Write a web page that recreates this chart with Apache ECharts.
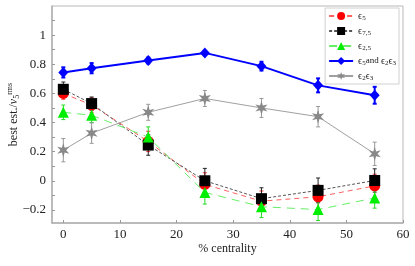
<!DOCTYPE html>
<html><head><meta charset="utf-8">
<script src="https://cdn.jsdelivr.net/npm/echarts@6/dist/echarts.min.js"></script>
<style>html,body{margin:0;padding:0;background:#fff}#c{width:415px;height:266px}</style>
</head><body><div id="c"></div>
<script>
const centrality = [0, 5, 15, 25, 35, 45, 55];
const eps5 = [0.60, 0.52, 0.27, -0.025, -0.14, -0.11, -0.035];
const eps5Err = [0.04, 0.05, 0.07, 0.08, 0.07, 0.08, 0.08];
const eps75 = [0.628, 0.53, 0.245, 0.0, -0.123, -0.066, 0.002];
const eps75Err = [0.05, 0.045, 0.07, 0.085, 0.075, 0.085, 0.08];
const eps25 = [0.47, 0.45, 0.30, -0.08, -0.178, -0.198, -0.118];
const eps25Err = [0.05, 0.05, 0.07, 0.08, 0.075, 0.075, 0.07];
const eps5and23 = [0.744, 0.773, 0.826, 0.878, 0.787, 0.655, 0.587];
const eps5and23Err = [0.035, 0.035, 0.02, 0.012, 0.03, 0.048, 0.058];
const eps23 = [0.21, 0.327, 0.47, 0.565, 0.50, 0.44, 0.185];
const eps23Err = [0.08, 0.07, 0.055, 0.055, 0.065, 0.07, 0.08];
const xTicks = [0, 10, 20, 30, 40, 50, 60];
const yTicks = [-0.2, 0, 0.2, 0.4, 0.6, 0.8, 1];
const yAllTicks = [-0.2, -0.1, 0, 0.1, 0.2, 0.3, 0.4, 0.5, 0.6, 0.7, 0.8, 0.9, 1, 1.1];

const SERIF = "'Liberation Serif','DejaVu Serif',serif";
const star = 'path://M10 0 L12 6.54 L18.66 5 L14 10 L18.66 15 L12 13.46 L10 20 L8 13.46 L1.34 15 L6 10 L1.34 5 L8 6.54 Z';

function pairs(v){ return centrality.map((x,i)=>[x, v[i]]); }
function errData(v, e){ return centrality.map((x,i)=>[x, v[i], e[i]]); }
function errSeries(v, e, color, lw, z){
  return {
    type:'custom', silent:true, z:z, data: errData(v,e),
    renderItem:function(params, api){
      const x = api.value(0), y = api.value(1), d = api.value(2);
      const t = api.coord([x, y + d]), b = api.coord([x, y - d]);
      const cw = 2;
      const st = {stroke: color, lineWidth: lw};
      return {type:'group', children:[
        {type:'line', shape:{x1:t[0],y1:t[1],x2:b[0],y2:b[1]}, style:st},
        {type:'line', shape:{x1:t[0]-cw,y1:t[1],x2:t[0]+cw,y2:t[1]}, style:st},
        {type:'line', shape:{x1:b[0]-cw,y1:b[1],x2:b[0]+cw,y2:b[1]}, style:st}
      ]};
    }
  };
}

const names = {
  'e5': '{e|ϵ}{s|5}',
  'e75': '{e|ϵ}{s|7,5}',
  'e25': '{e|ϵ}{s|2,5}',
  'e5and': '{e|ϵ}{s|5}{t|and }{e|ϵ}{s|2}{e|ϵ}{s|3}',
  'e23': '{e|ϵ}{s|2}{e|ϵ}{s|3}'
};

const chart = echarts.init(document.getElementById('c'), null, {renderer:'canvas'});
chart.setOption({
  animation:false,
  backgroundColor:'#fff',
  grid:{left:52, right:12, top:6, bottom:43, containLabel:false, outerBoundsMode:'none',
    show:true, borderColor:'#b8b8b8', borderWidth:1, backgroundColor:'transparent'},
  legend:{
    orient:'vertical', right:16, top:8, itemWidth:24, itemHeight:10, itemGap:4,
    backgroundColor:'#fff', borderColor:'#d0d0d0', borderWidth:1, padding:[3,3,2,3],
    data:['e5','e75','e25','e5and','e23'],
    formatter: n => names[n],
    textStyle:{fontFamily:SERIF, fontSize:10, color:'#222',
      rich:{e:{fontFamily:SERIF,fontSize:10,color:'#222'}, s:{fontFamily:SERIF,fontSize:7,color:'#222', padding:[5,0,0,0]}, t:{fontFamily:SERIF,fontSize:9,color:'#222'}}}
  },
  xAxis:{
    type:'value', min:-2, max:60,
    name:'% centrality', nameLocation:'middle', nameGap:20, nameMoveOverlap:false,
    nameTextStyle:{fontFamily:SERIF, fontSize:12, color:'#222'},
    axisLine:{show:true, onZero:false, lineStyle:{color:'#b0b0b0', width:1.5}},
    axisTick:{show:true, inside:true, length:3, customValues:xTicks, lineStyle:{color:'#999'}},
    axisLabel:{customValues:xTicks, fontFamily:SERIF, fontSize:13, color:'#222', margin:5},
    splitLine:{show:false}
  },
  yAxis:{
    type:'value', min:-0.29, max:1.2,
    name:'{a|best est./}{v|v}{s|5}{p|rms}', nameLocation:'middle', nameGap:30, nameMoveOverlap:false,
    nameTextStyle:{fontFamily:SERIF, fontSize:12, color:'#222',
      rich:{a:{fontFamily:SERIF,fontSize:12,color:'#222'}, v:{fontFamily:SERIF,fontSize:12,fontStyle:'italic',color:'#222'},
        s:{fontFamily:SERIF,fontSize:8,color:'#222',padding:[6,0,0,0]}, p:{fontFamily:SERIF,fontSize:8,color:'#222',padding:[0,0,8,0]}}},
    axisLine:{show:true, onZero:false, lineStyle:{color:'#b0b0b0', width:1.5}},
    axisTick:{show:true, inside:true, length:3, customValues:yAllTicks, lineStyle:{color:'#999'}},
    axisLabel:{customValues:yTicks, fontFamily:SERIF, fontSize:13, color:'#222', margin:6,
      formatter: v => { const r = Math.round(v*10)/10; return r < 0 ? '\u2212' + String(-r) : String(r); }},
    splitLine:{show:false}
  },
  series:[
    errSeries(eps5, eps5Err, '#ff3030', 1, 2),
    errSeries(eps75, eps75Err, '#222', 1, 2),
    errSeries(eps25, eps25Err, '#22dd22', 1, 2),
    errSeries(eps5and23, eps5and23Err, '#0000ff', 2, 2),
    errSeries(eps23, eps23Err, '#999', 1, 2),
    {name:'e5', type:'line', data:pairs(eps5), symbol:'circle', symbolSize:11, z:3,
      itemStyle:{color:'#ff0000'}, lineStyle:{color:'#ff6060', width:1, type:[5,4]}},
    {name:'e75', type:'line', data:pairs(eps75), symbol:'rect', symbolSize:11, z:3,
      itemStyle:{color:'#000'}, lineStyle:{color:'#555', width:1, type:[3,2]}},
    {name:'e25', type:'line', data:pairs(eps25), symbol:'triangle', symbolSize:[11,11], z:3,
      itemStyle:{color:'#00ee00'}, lineStyle:{color:'#66ee66', width:1, type:[8,6]}},
    {name:'e5and', type:'line', data:pairs(eps5and23), symbol:'diamond', symbolSize:[10,11], z:3,
      itemStyle:{color:'#0000ff'}, lineStyle:{color:'#0000ff', width:2}},
    {name:'e23', type:'line', data:pairs(eps23), symbol:star, symbolSize:14, symbolKeepAspect:true, z:3,
      itemStyle:{color:'#888'}, lineStyle:{color:'#a0a0a0', width:1}}
  ]
});
</script>
</body></html>
